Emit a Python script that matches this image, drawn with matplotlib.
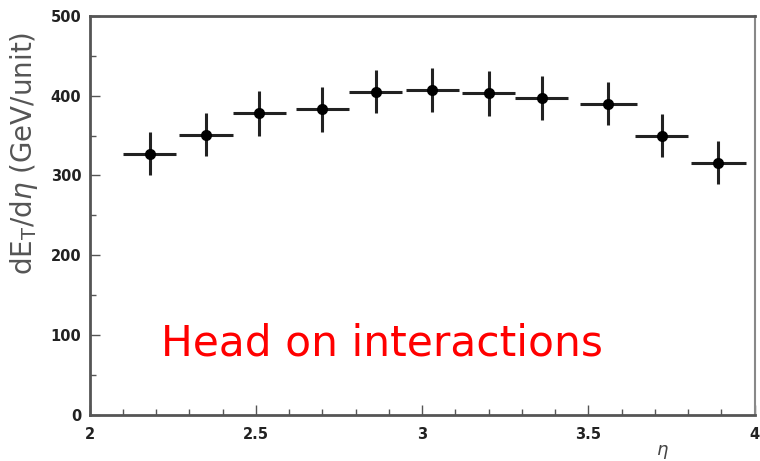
import numpy as np
import matplotlib.pyplot as plt
from matplotlib.ticker import MultipleLocator

# eta bins and measured dE_T/deta
eta = [2.18, 2.35, 2.51, 2.70, 2.86, 3.03, 3.20, 3.36, 3.56, 3.72, 3.89]
det = [327, 351, 378, 383, 405, 407, 403, 397, 390, 350, 316]
eta_err = [0.08, 0.08, 0.08, 0.08, 0.08, 0.08, 0.08, 0.08, 0.085, 0.08, 0.083]
det_err = [27, 27, 28, 28, 27, 28, 28, 28, 27, 27, 27]

xticks = [2, 2.5, 3, 3.5, 4]
xtick_labels = ['2', '2.5', '3', '3.5', '4']
yticks = [0, 100, 200, 300, 400, 500]
ytick_labels = ['0', '100', '200', '300', '400', '500']

fig = plt.figure(figsize=(7.6, 4.61), dpi=100)
ax = fig.add_axes([0.118, 0.0998, 0.875, 0.866])

ax.errorbar(eta, det, xerr=eta_err, yerr=det_err, fmt='o', color='black',
            ms=7, elinewidth=2.2, capsize=0, ecolor='#222222')

ax.set_xlim(2, 4)
ax.set_ylim(0, 500)
ax.set_xticks(xticks, xtick_labels, fontweight='bold', fontsize=10.5)
ax.set_yticks(yticks, ytick_labels, fontweight='bold', fontsize=10.5)
ax.xaxis.set_minor_locator(MultipleLocator(0.1))
ax.yaxis.set_minor_locator(MultipleLocator(50))
ax.tick_params(which='both', direction='in', colors='#555555', labelcolor='#222222')
ax.tick_params(which='major', length=7, width=1)
ax.tick_params(which='minor', length=4, width=1)
ax.tick_params(axis='x', pad=9)
ax.tick_params(axis='y', pad=6)

for s in ['left', 'bottom', 'top']:
    ax.spines[s].set_color('#555555')
    ax.spines[s].set_linewidth(2)
ax.spines['right'].set_color('#888888')
ax.spines['right'].set_linewidth(1.5)

ax.set_ylabel(r'dE$_{\rm T}$/d$\eta$ (GeV/unit)', fontsize=20, color='#555555')
ax.yaxis.set_label_coords(-0.075, 0.655)
fig.text(0.872, 0.012, r'$\eta$', fontsize=13, color='#444444', ha='center')

ax.text(2.88, 90, 'Head on interactions', color='red', fontsize=30.5,
        ha='center', va='center')

fig.savefig('out.png', dpi=100)
